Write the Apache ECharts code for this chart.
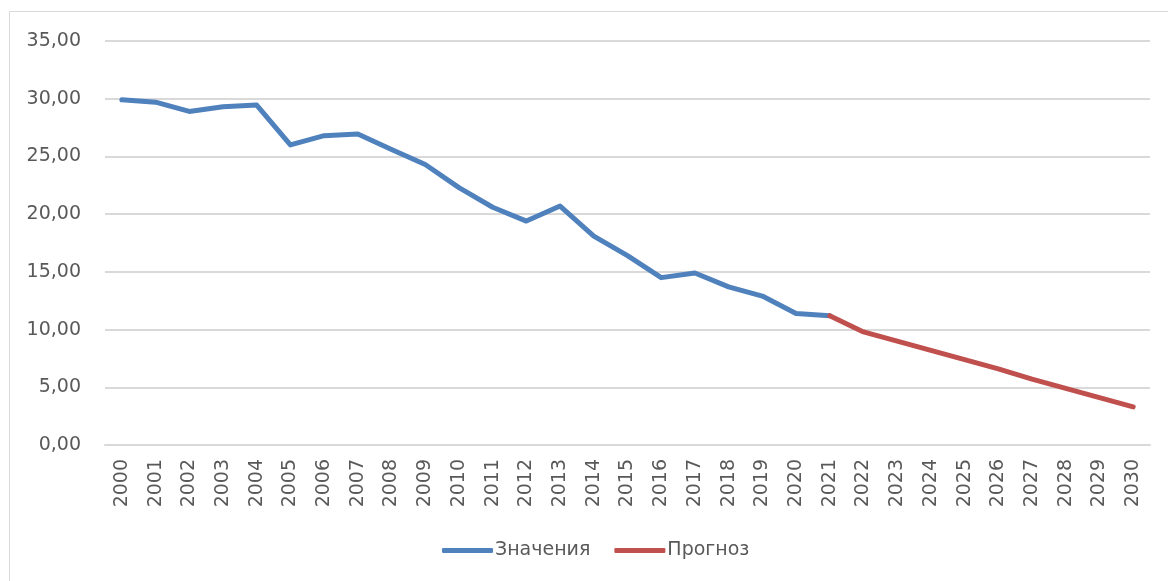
<!DOCTYPE html>
<html>
<head>
<meta charset="utf-8">
<script src="https://cdn.jsdelivr.net/npm/echarts@6/dist/echarts.min.js"></script>
<style>
  html, body { margin: 0; padding: 0; background: #fff; }
  #chart { width: 1168px; height: 581px; }
</style>
</head>
<body>
<div id="chart"></div>
<script>
// годы
var years = [];
for (var y = 2000; y <= 2030; y++) years.push(String(y));

// фактические значения 2000-2021
var factValues = [29.9, 29.7, 28.9, 29.3, 29.45, 26.0, 26.8, 26.95, 25.6, 24.3,
                  22.3, 20.6, 19.4, 20.7, 18.1, 16.4, 14.5, 14.9, 13.7, 12.9,
                  11.4, 11.2];

// прогноз 2021-2030
var forecastValues = [11.2, 9.8, 9.0, 8.2, 7.4, 6.6, 5.7, 4.9, 4.1, 3.3];

var yTicks = [0, 5, 10, 15, 20, 25, 30, 35];

var factData = years.map(function (yr, i) {
    return i < factValues.length ? factValues[i] : null;
});
var forecastStart = 21;
var forecastData = years.map(function (yr, i) {
    return i >= forecastStart ? forecastValues[i - forecastStart] : null;
});

var chart = echarts.init(document.getElementById('chart'));
var textColor = '#595959';
var fontFamily = '"DejaVu Sans", sans-serif';

chart.setOption({
    animation: false,
    backgroundColor: '#fff',
    graphic: [{
        type: 'polyline',
        shape: { points: [[9.5, 600], [9.5, 11.5], [1200, 11.5]] },
        style: { stroke: '#d9d9d9', lineWidth: 1, fill: null }
    }],
    grid: { left: 105, right: 18, top: 41, bottom: 136 },
    legend: {
        top: 536,
        left: 437,
        itemWidth: 51,
        itemHeight: 5,
        itemGap: 24,
        icon: 'roundRect',
        textStyle: { color: textColor, fontSize: 19, fontFamily: fontFamily, padding: [0, 0, 0, -3] },
        data: ['Значения', 'Прогноз']
    },
    xAxis: {
        type: 'category',
        data: years,
        boundaryGap: true,
        axisLine: { lineStyle: { color: '#d9d9d9', width: 2 } },
        axisTick: { show: false },
        axisLabel: {
            rotate: 90,
            interval: 0,
            margin: 14,
            color: textColor,
            fontSize: 19,
            fontFamily: fontFamily
        }
    },
    yAxis: {
        type: 'value',
        min: yTicks[0],
        max: yTicks[yTicks.length - 1],
        interval: 5,
        axisLine: { show: false },
        axisTick: { show: false },
        splitLine: { lineStyle: { color: '#d9d9d9', width: 2 } },
        axisLabel: {
            margin: 24,
            color: textColor,
            fontSize: 19,
            fontFamily: fontFamily,
            formatter: function (v) { return v.toFixed(2).replace('.', ','); }
        }
    },
    series: [{
        name: 'Значения',
        type: 'line',
        data: factData,
        showSymbol: false,
        symbol: 'none',
        color: '#4f81bd',
        lineStyle: { width: 5, color: '#4f81bd', cap: 'round', join: 'round' }
    }, {
        name: 'Прогноз',
        type: 'line',
        data: forecastData,
        showSymbol: false,
        symbol: 'none',
        color: '#c0504d',
        lineStyle: { width: 5, color: '#c0504d', cap: 'round', join: 'round' }
    }]
});
</script>
</body>
</html>
